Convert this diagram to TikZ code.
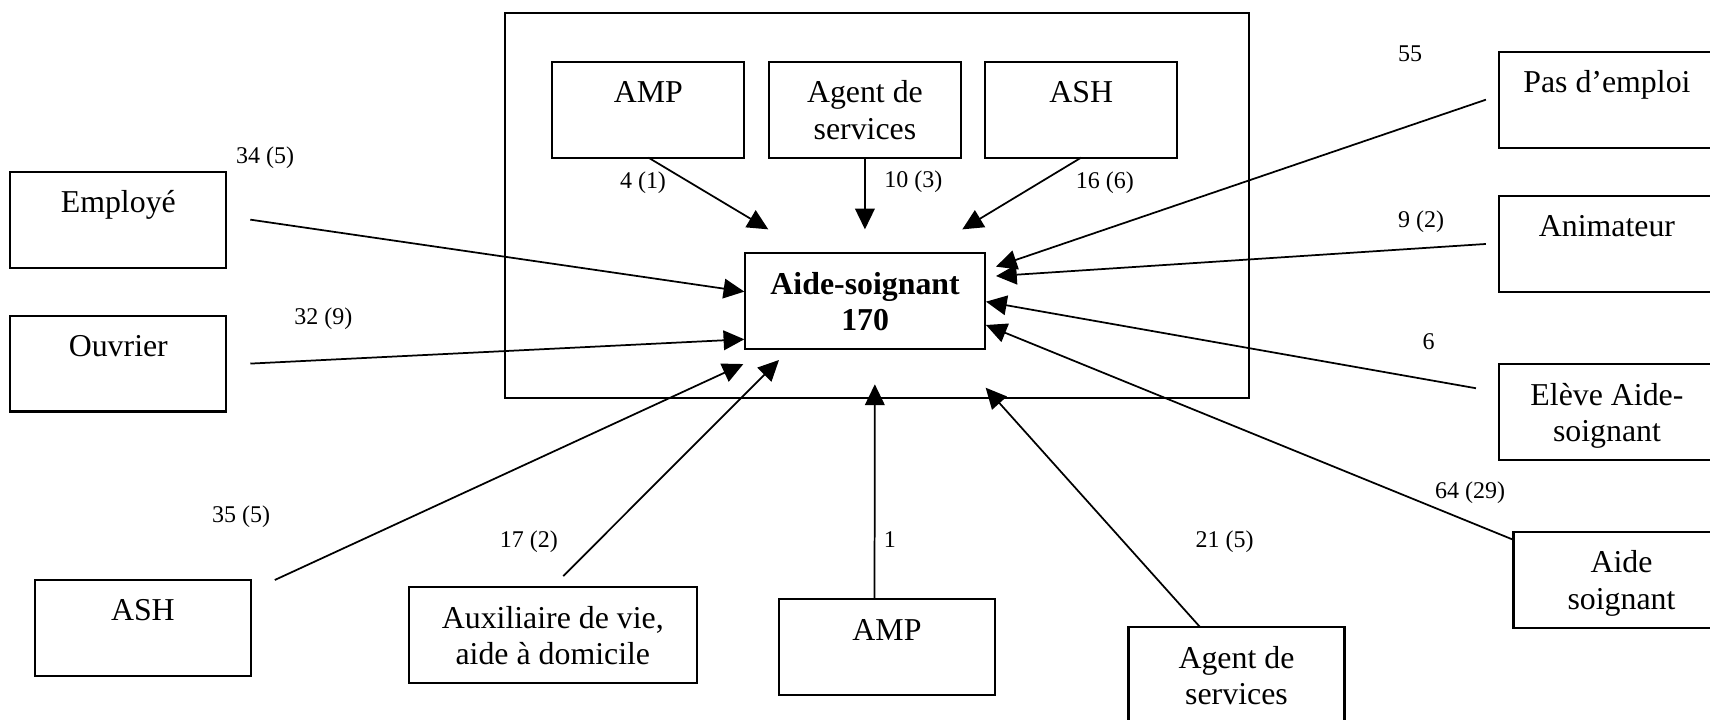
\documentclass[tikz,border=0pt]{standalone}
\usepackage{fontspec}
\setmainfont{Liberation Serif}
\usetikzlibrary{arrows.meta}

% text block of a box: fixed size, lines centred, first line near the top
\newcommand{\cellbox}[3]{\parbox[c][#2][t]{#1}{\centering\rule{0pt}{18.8pt}#3\par}}

\tikzset{
  cell/.style={draw, line width=1pt, inner sep=0pt, outer sep=0pt, anchor=north west,
               font=\fontsize{14.6}{16.75}\selectfont},
  num/.style={inner sep=0pt, font=\fontsize{11}{13}\selectfont},
  flow/.style={line width=0.8pt, -{Triangle[length=9.5pt,width=9pt]}},
}

\begin{document}
\begin{tikzpicture}[x=0.5pt,y=-0.5pt]
\useasboundingbox (0,0) rectangle (1568,660);

% frame around the establishment
\node[draw, line width=1pt, inner sep=0pt, outer sep=0pt, anchor=north west,
      minimum width=341pt, minimum height=176.2pt] (frame) at (463,12.2) {};

% boxes inside the frame
\node[cell] (ampin) at (506.5,56.5) {\cellbox{88pt}{44pt}{AMP}};
\node[cell] (agin)  at (705.1,56.5) {\cellbox{88pt}{44pt}{Agent de\\services}};
\node[cell] (ashin) at (903.4,56.5) {\cellbox{88pt}{44pt}{ASH}};
\node[cell] (as)    at (683.1,232.3) {\cellbox{110.2pt}{43.9pt}{\bfseries Aide-soignant\\170}};

% origins outside the frame
\node[cell] (emp)    at (9.5,157.4)   {\cellbox{99pt}{44pt}{Employé}};
\node[cell] (ouv)    at (9.5,289.4)   {\cellbox{99pt}{44pt}{Ouvrier}};
\node[cell] (ashout) at (32,531.8)    {\cellbox{99pt}{44pt}{ASH}};
\node[cell] (aux)    at (374.7,538.5) {\cellbox{132.2pt}{44pt}{Auxiliaire de vie,\\aide à domicile}};
\node[cell] (ampout) at (714.3,549.5) {\cellbox{99pt}{44pt}{AMP}};
\node[cell] (agout)  at (1034.8,575.2){\cellbox{99pt}{44pt}{Agent de\\services}};
\node[cell] (pas)    at (1374.5,47.4) {\cellbox{99pt}{44pt}{Pas d’emploi}};
\node[cell] (anim)   at (1374.5,179.7){\cellbox{99pt}{44pt}{Animateur}};
\node[cell] (eleve)  at (1374.5,333.8){\cellbox{99pt}{44pt}{Elève Aide-\\soignant}};
\node[cell] (aide)   at (1387.8,487.5){\cellbox{99pt}{44pt}{Aide\\soignant}};

% arrow tips around the central box
\coordinate (in-ampin)  at (704.5,210.3);
\coordinate (in-agin)   at (793.1,210.3);
\coordinate (in-ashin)  at (882.4,210.3);
\coordinate (in-emp)    at (682.5,267.4);
\coordinate (in-ouv)    at (682.5,311.1);
\coordinate (in-ashout) at (681.6,333.8);
\coordinate (in-aux)    at (714.3,330.1);
\coordinate (in-ampout) at (802.2,352.4);
\coordinate (in-agout)  at (903.8,355.5);
\coordinate (in-pas)    at (913.3,244.5);
\coordinate (in-anim)   at (913.3,253.1);
\coordinate (in-eleve)  at (904.1,276.6);
\coordinate (in-aide)   at (904.1,298);

% flows
\draw[flow] (ampin.south) -- (in-ampin);
\draw[flow] (agin.south) -- (in-agin);
\draw[flow] (ashin.south) -- (in-ashin);
\draw[flow] ([xshift=11pt]emp.east) -- (in-emp);
\draw[flow] ([xshift=11pt]ouv.east) -- (in-ouv);
\draw[flow] ([xshift=11pt]ashout.north east) -- (in-ashout);
\draw[flow] ([shift={(4.8pt,5.15pt)}]aux.north) -- (in-aux);
\draw[flow] ([xshift=-5.7pt]ampout.north) -- (in-ampout);
\draw[flow] ([xshift=-16.6pt]agout.north) -- (in-agout);
\draw[flow] ([xshift=-6pt]pas.west) -- (in-pas);
\draw[flow] ([xshift=-6pt]anim.west) -- (in-anim);
\draw[flow] ([shift={(-10.55pt,10.9pt)}]eleve.west) -- (in-eleve);
\draw[flow] ([yshift=-3.75pt]aide.north west) -- (in-aide);

% counts
\node[num] (l-ampin)  at (589.6,167.5) {4 (1)};
\node[num] (l-agin)   at (837.5,166.6) {10 (3)};
\node[num] (l-ashin)  at (1013.2,167.5) {16 (6)};
\node[num] (l-emp)    at (243,145) {34 (5)};
\node[num] (l-ouv)    at (296.5,292) {32 (9)};
\node[num] (l-ashout) at (221,474) {35 (5)};
\node[num] (l-aux)    at (485,497) {17 (2)};
\node[num] (l-ampout) at (816,495) {1};
\node[num] (l-agout)  at (1123,497) {21 (5)};
\node[num] (l-aide)   at (1348,452) {64 (29)};
\node[num] (l-eleve)  at (1310,313) {6};
\node[num] (l-anim)   at (1303,203) {9 (2)};
\node[num] (l-pas)    at (1293,49) {55};
\end{tikzpicture}
\end{document}
